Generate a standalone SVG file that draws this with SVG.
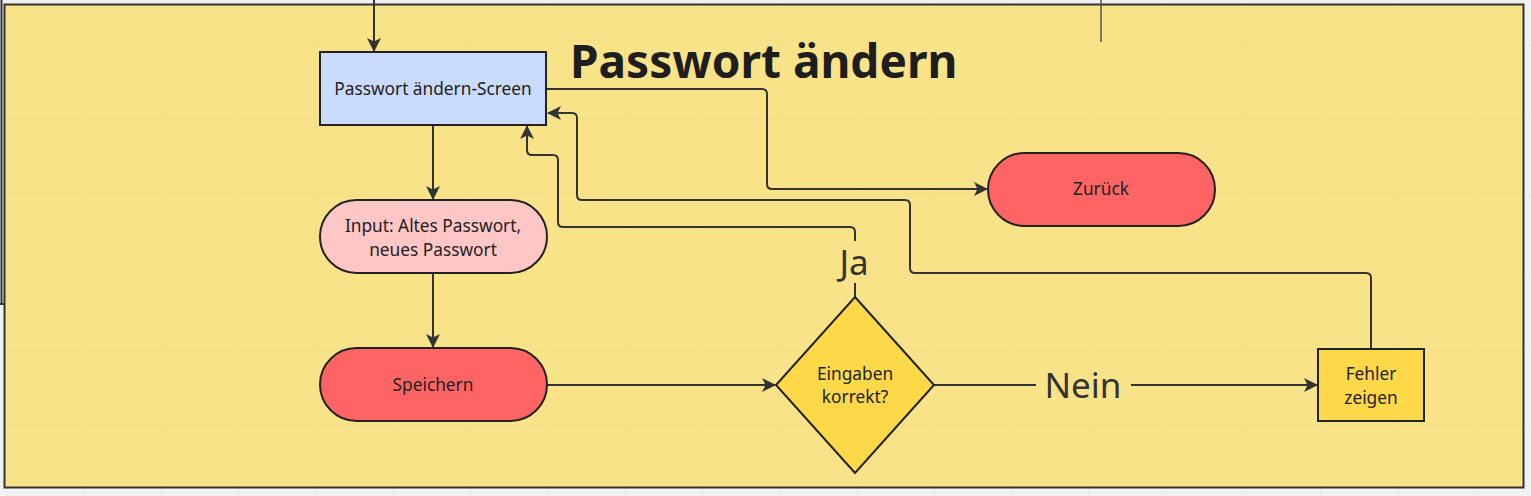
<svg xmlns="http://www.w3.org/2000/svg" width="1531" height="496" viewBox="0 0 1531 496">
<defs>
<pattern id="gridOut" x="6" y="40" width="77.3" height="77.3" patternUnits="userSpaceOnUse">
<path d="M0,0 H77.3 M0,0 V77.3" fill="none" stroke="#e4e4e4" stroke-width="1"/>
</pattern>
<pattern id="gridIn" x="6" y="40" width="77.3" height="77.3" patternUnits="userSpaceOnUse">
<path d="M0,0 H77.3 M0,0 V77.3" fill="none" stroke="#efd98a" stroke-width="1"/>
</pattern>
<marker id="arr" viewBox="0 0 14 14" refX="13" refY="7" markerWidth="14" markerHeight="14" markerUnits="userSpaceOnUse" orient="auto">
<path d="M0,0 L14,7 L0,14 L3.5,7 z" fill="#333333"/>
</marker>
<style>
.lbl{font-family:"Noto Sans","Open Sans","DejaVu Sans",sans-serif;font-size:17.3px;fill:#222222;text-anchor:middle}
.big{font-family:"Noto Sans","Open Sans","DejaVu Sans",sans-serif;font-size:35px;fill:#333333;text-anchor:middle}
.edge{fill:none;stroke:#333333;stroke-width:2;stroke-linejoin:round}
.node{stroke:#222222;stroke-width:2}
</style>
</defs>
<rect x="0" y="0" width="1531" height="496" fill="#f1f1f1"/>
<rect x="0" y="0" width="1531" height="496" fill="url(#gridOut)"/>
<line x1="1.5" y1="0" x2="1.5" y2="304" stroke="#333333" stroke-width="2"/>
<line x1="0" y1="304" x2="4" y2="304" stroke="#333333" stroke-width="2"/>
<g id="frame">
<rect x="4.5" y="4.5" width="1519" height="483" fill="#f9e388"/>
<rect x="4.5" y="4.5" width="1519" height="483" fill="url(#gridIn)"/>
<rect x="4.5" y="4.5" width="1519" height="483" fill="none" stroke="#333333" stroke-width="2"/>
<text x="570" y="78" font-family="'Noto Sans','Open Sans',sans-serif" font-size="46" font-weight="bold" fill="#1e1e1e">Passwort ändern</text>
</g>
<g id="connectors">
<line x1="1101" y1="0" x2="1101" y2="42" stroke="#555555" stroke-width="1.5"/>
<path class="edge" d="M374,0 V51" marker-end="url(#arr)"/>
<path class="edge" d="M433,125 V199" marker-end="url(#arr)"/>
<path class="edge" d="M433,273 V347" marker-end="url(#arr)"/>
<path class="edge" d="M547,385 H775" marker-end="url(#arr)"/>
<path class="edge" d="M934,385 H1036 M1131,385 H1317" marker-end="url(#arr)"/>
<path class="edge" d="M547,89 H762 Q767,89 767,94 V184 Q767,189 772,189 H987" marker-end="url(#arr)"/>
<path class="edge" d="M1371,349 V278 Q1371,273 1366,273 H915 Q910,273 910,268 V205 Q910,200 905,200 H582 Q577,200 577,195 V118 Q577,113 572,113 H548" marker-end="url(#arr)"/>
<path class="edge" d="M855,297 V283 M855,241 V232 Q855,227 850,227 H563 Q558,227 558,222 V160 Q558,155 553,155 H532 Q527,155 527,150 V126" marker-end="url(#arr)"/>
<text class="big" x="854" y="275">Ja</text>
<text class="big" x="1083" y="398">Nein</text>
</g>
<g id="screen">
<rect class="node" x="320" y="52" width="226" height="73" fill="#c9dcfd"/>
<text class="lbl" x="433" y="95">Passwort ändern-Screen</text>
</g>
<g id="input">
<rect class="node" x="320" y="200" width="227" height="73" rx="36.5" fill="#ffc6c6"/>
<text class="lbl" x="433" y="232">Input: Altes Passwort,</text>
<text class="lbl" x="433" y="256">neues Passwort</text>
</g>
<g id="speichern">
<rect class="node" x="320" y="348" width="227" height="73" rx="36.5" fill="#ff6464"/>
<text class="lbl" x="433" y="391">Speichern</text>
</g>
<g id="zurueck">
<rect class="node" x="988" y="153" width="227" height="73" rx="36.5" fill="#ff6464"/>
<text class="lbl" x="1101" y="195">Zurück</text>
</g>
<g id="decision">
<polygon class="node" points="855,297 934,385 855,473 776,385" fill="#fdd94a"/>
<text class="lbl" x="855" y="380">Eingaben</text>
<text class="lbl" x="855" y="403">korrekt?</text>
</g>
<g id="fehler">
<rect class="node" x="1318" y="349" width="106" height="72" fill="#fdd94a"/>
<text class="lbl" x="1371" y="380">Fehler</text>
<text class="lbl" x="1371" y="404">zeigen</text>
</g>
</svg>
